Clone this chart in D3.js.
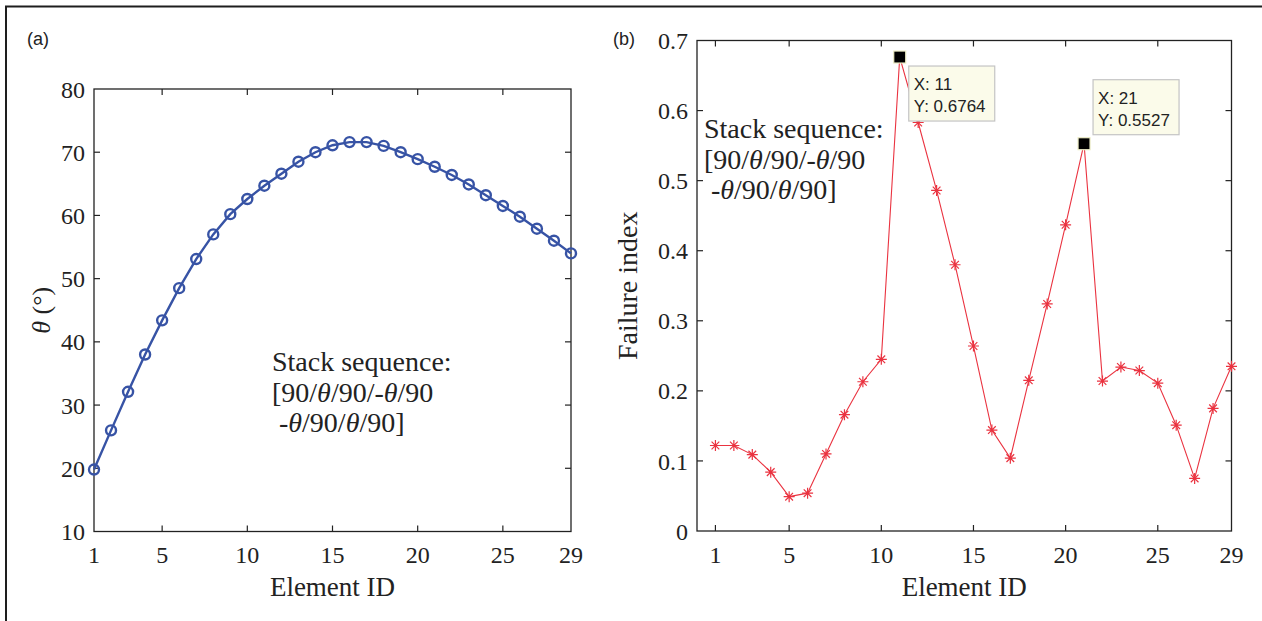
<!DOCTYPE html>
<html>
<head>
<meta charset="utf-8">
<script src="https://cdn.jsdelivr.net/npm/d3@7"></script>
<style>
  body { margin: 0; background: #fff; }
  svg { display: block; }
  .serif { font-family: "Liberation Serif", "Times New Roman", serif; fill: #222; }
  .sans { font-family: "Liberation Sans", Arial, sans-serif; fill: #222; }
</style>
</head>
<body>
<svg id="fig" width="1262" height="621"></svg>
<script>
// element ids on the x axis of both panels
var elementIds = [1, 2, 3, 4, 5, 6, 7, 8, 9, 10, 11, 12, 13, 14, 15, 16, 17, 18, 19, 20, 21, 22, 23, 24, 25, 26, 27, 28, 29]
// panel (a): ply angle theta in degrees
var thetaDeg = [19.8, 26.0, 32.1, 38.0, 43.4, 48.5, 53.1, 57.0, 60.2, 62.6, 64.7, 66.6, 68.5, 70.0, 71.1, 71.6, 71.6, 71.0, 70.0, 68.9, 67.7, 66.4, 64.9, 63.2, 61.5, 59.8, 57.9, 56.0, 54.0]
// panel (b): failure index
var failureIndex = [0.122, 0.122, 0.109, 0.084, 0.049, 0.054, 0.110, 0.166, 0.213, 0.245, 0.6764, 0.583, 0.486, 0.380, 0.264, 0.144, 0.104, 0.215, 0.324, 0.437, 0.5527, 0.214, 0.234, 0.229, 0.211, 0.151, 0.075, 0.175, 0.235]
var xTicks = [1, 5, 10, 15, 20, 25, 29]
var thetaTicks = [10, 20, 30, 40, 50, 60, 70, 80]
var fiTicks = [0, 0.1, 0.2, 0.3, 0.4, 0.5, 0.6, 0.7]
// data tips shown on panel (b)
var tipIds = [11, 21]
var tipSide = ['below', 'above']

var svg = d3.select('#fig')
var ink = '#222'

// outer frame (only top and left edges show)
svg.append('path')
  .attr('d', 'M6,621V6.5H1262')
  .attr('fill', 'none')
  .attr('stroke', '#1e1e1e')
  .attr('stroke-width', 2)

function drawFrame(g, x, y, xt, yt, yFmt) {
  var x0 = x.range()[0], x1 = x.range()[1]
  var y0 = y.range()[0], y1 = y.range()[1]

  g.append('rect')
    .attr('x', x0).attr('y', y1)
    .attr('width', x1 - x0).attr('height', y0 - y1)
    .attr('fill', 'none').attr('stroke', ink).attr('stroke-width', 1.3)

  // inward ticks on all four sides
  xt.forEach(function(t) {
    if (x(t) <= x0 + 0.5 || x(t) >= x1 - 0.5) return
    g.append('line').attr('x1', x(t)).attr('x2', x(t)).attr('y1', y0).attr('y2', y0 - 6)
      .attr('stroke', ink).attr('stroke-width', 1.2)
    g.append('line').attr('x1', x(t)).attr('x2', x(t)).attr('y1', y1).attr('y2', y1 + 6)
      .attr('stroke', ink).attr('stroke-width', 1.2)
  })
  yt.forEach(function(t) {
    if (y(t) >= y0 - 0.5 || y(t) <= y1 + 0.5) return
    g.append('line').attr('x1', x0).attr('x2', x0 + 6).attr('y1', y(t)).attr('y2', y(t))
      .attr('stroke', ink).attr('stroke-width', 1.2)
    g.append('line').attr('x1', x1).attr('x2', x1 - 6).attr('y1', y(t)).attr('y2', y(t))
      .attr('stroke', ink).attr('stroke-width', 1.2)
  })

  g.selectAll('.xl').data(xt).enter().append('text')
    .attr('class', 'serif')
    .attr('x', function(d) { return x(d) })
    .attr('y', 563)
    .attr('text-anchor', 'middle')
    .style('font-size', '24px')
    .text(function(d) { return d })

  g.selectAll('.yl').data(yt).enter().append('text')
    .attr('class', 'serif')
    .attr('x', x0 - 9)
    .attr('y', function(d) { return y(d) })
    .attr('dy', '0.36em')
    .attr('text-anchor', 'end')
    .style('font-size', '24px')
    .text(yFmt)

  g.append('text')
    .attr('class', 'serif')
    .attr('x', (x0 + x1) / 2)
    .attr('y', 596)
    .attr('text-anchor', 'middle')
    .style('font-size', '27px')
    .text('Element ID')
}

function stackNote(g, x, y) {
  var t = g.append('text').attr('class', 'serif').style('font-size', '28px')
  t.append('tspan').attr('x', x).attr('y', y).text('Stack sequence:')
  var l2 = t.append('tspan').attr('x', x).attr('y', y + 31)
  l2.append('tspan').text('[90/')
  l2.append('tspan').style('font-style', 'italic').text('θ')
  l2.append('tspan').text('/90/-')
  l2.append('tspan').style('font-style', 'italic').text('θ')
  l2.append('tspan').text('/90')
  var l3 = t.append('tspan').attr('x', x + 7).attr('y', y + 61)
  l3.append('tspan').text('-')
  l3.append('tspan').style('font-style', 'italic').text('θ')
  l3.append('tspan').text('/90/')
  l3.append('tspan').style('font-style', 'italic').text('θ')
  l3.append('tspan').text('/90]')
}

// ---------- panel (a) ----------
var ga = svg.append('g')
var xa = d3.scaleLinear().domain([1, 29]).range([94, 571])
var ya = d3.scaleLinear().domain([10, 80]).range([531.5, 89])

drawFrame(ga, xa, ya, xTicks, thetaTicks, function(d) { return d })

var blue = '#3753a5'
var lineA = d3.line()
  .x(function(d, i) { return xa(elementIds[i]) })
  .y(function(d) { return ya(d) })

ga.append('path')
  .datum(thetaDeg)
  .attr('d', lineA)
  .attr('fill', 'none')
  .attr('stroke', blue)
  .attr('stroke-width', 2.4)

ga.selectAll('.pt').data(thetaDeg).enter().append('circle')
  .attr('cx', function(d, i) { return xa(elementIds[i]) })
  .attr('cy', function(d) { return ya(d) })
  .attr('r', 5)
  .attr('fill', 'none')
  .attr('stroke', blue)
  .attr('stroke-width', 2.4)

ga.append('text')
  .attr('class', 'serif')
  .attr('transform', 'translate(50,' + ((89 + 531.5) / 2) + ') rotate(-90)')
  .attr('text-anchor', 'middle')
  .style('font-size', '26px')
  .call(function(t) {
    t.append('tspan').style('font-style', 'italic').text('θ')
    t.append('tspan').text(' (°)')
  })

stackNote(ga, 272, 371)

svg.append('text').attr('class', 'sans').attr('x', 27).attr('y', 45)
  .style('font-size', '18px').text('(a)')

// ---------- panel (b) ----------
var gb = svg.append('g')
var xb = d3.scaleLinear().domain([0, 29]).range([697, 1231.5])
var yb = d3.scaleLinear().domain([0, 0.7]).range([531, 40.5])

drawFrame(gb, xb, yb, xTicks, fiTicks, function(d) { return d === 0 ? '0' : d3.format('.1f')(d) })

var red = '#ea3340'
var lineB = d3.line()
  .x(function(d, i) { return xb(elementIds[i]) })
  .y(function(d) { return yb(d) })

gb.append('path')
  .datum(failureIndex)
  .attr('d', lineB)
  .attr('fill', 'none')
  .attr('stroke', red)
  .attr('stroke-width', 1.1)

// matlab style '*' marker: plus and cross
function starPath(s) {
  var a = s * 0.7
  return 'M' + (-s) + ',0H' + s + 'M0,' + (-s) + 'V' + s +
    'M' + (-a) + ',' + (-a) + 'L' + a + ',' + a + 'M' + (-a) + ',' + a + 'L' + a + ',' + (-a)
}

gb.selectAll('.st').data(failureIndex).enter().append('path')
  .attr('transform', function(d, i) { return 'translate(' + xb(elementIds[i]) + ',' + yb(d) + ')' })
  .attr('d', starPath(5.5))
  .attr('fill', 'none')
  .attr('stroke', red)
  .attr('stroke-width', 1.2)

gb.append('text')
  .attr('class', 'serif')
  .attr('transform', 'translate(637,' + ((40.5 + 531) / 2) + ') rotate(-90)')
  .attr('text-anchor', 'middle')
  .style('font-size', '28px')
  .text('Failure index')

stackNote(gb, 704, 138)

// data tips
tipIds.forEach(function(id, k) {
  var v = failureIndex[elementIds.indexOf(id)]
  var cx = xb(id), cy = yb(v)
  var bw = 86, bh = 55
  var bx = cx + 9
  var by = tipSide[k] === 'below' ? cy + 9 : cy - 9 - bh
  gb.append('rect')
    .attr('x', bx).attr('y', by).attr('width', bw).attr('height', bh)
    .attr('fill', '#fbfbea').attr('stroke', '#c4c4c4').attr('stroke-width', 1.2)
  gb.append('text').attr('class', 'sans').attr('x', bx + 5).attr('y', by + 24)
    .style('font-size', '17px').text('X: ' + id)
  gb.append('text').attr('class', 'sans').attr('x', bx + 5).attr('y', by + 46)
    .style('font-size', '17px').text('Y: ' + d3.format('.4f')(v))
  gb.append('rect')
    .attr('x', cx - 6).attr('y', cy - 6).attr('width', 12).attr('height', 12)
    .attr('fill', '#000').attr('stroke', '#efefc8').attr('stroke-width', 1.2)
})

svg.append('text').attr('class', 'sans').attr('x', 613).attr('y', 45)
  .style('font-size', '18px').text('(b)')
</script>
</body>
</html>
